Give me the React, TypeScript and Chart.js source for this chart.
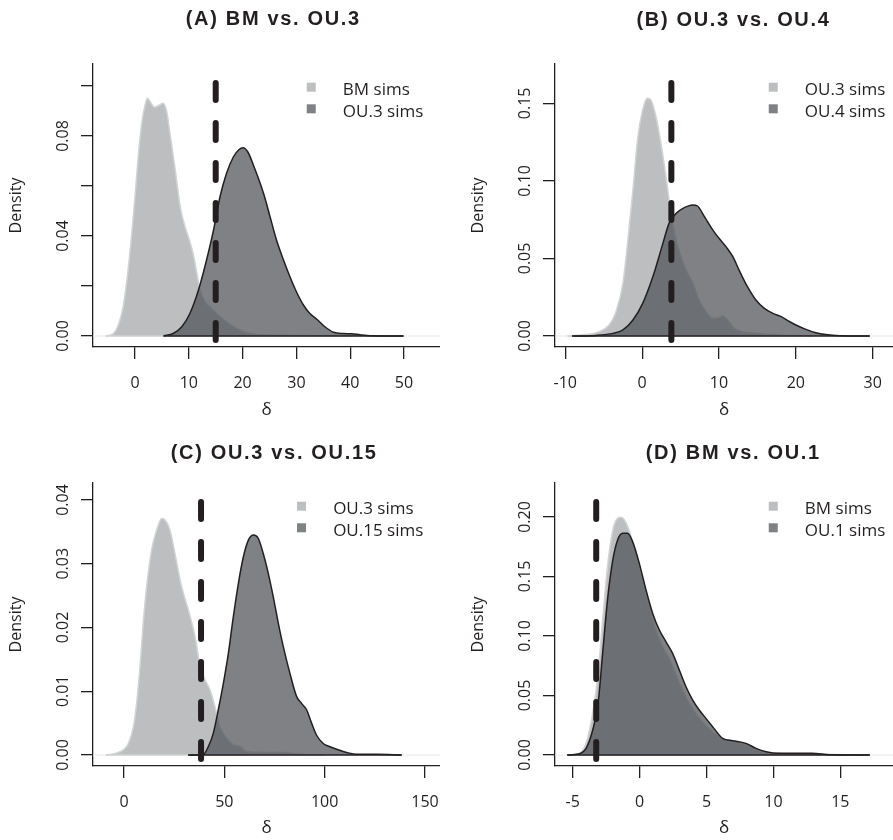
import { useEffect, useRef } from 'react';
import { Chart, registerables } from 'chart.js';

Chart.register(...registerables);

// ---------------- Panel A: BM vs. OU.3 ----------------
const A_TITLE = '(A) BM vs. OU.3';
const A_SERIES = ['BM sims', 'OU.3 sims'];
const A_LIGHT_X = [-5.4, -4.0, -3.1, -2.2, -1.5, -0.6, 0, 0.6, 1.24, 2.0, 2.3, 2.9, 3.6, 4.4, 5.2, 5.9, 6.5, 7.4, 8.4, 9.3, 10.1, 10.8, 11.5, 12.1, 13.0, 13.9, 15.2, 17.0, 18.9, 20.8, 23.2, 27.6, 33, 40];
const A_LIGHT_Y = [0, 0.001, 0.0044, 0.0117, 0.0224, 0.041, 0.0557, 0.0717, 0.085, 0.0935, 0.0951, 0.0935, 0.0915, 0.0922, 0.0931, 0.0897, 0.081, 0.0677, 0.0517, 0.0437, 0.0384, 0.033, 0.025, 0.0184, 0.0137, 0.0117, 0.009, 0.0057, 0.003, 0.0013, 0.0005, 0.0003, 0.0001, 0];
const A_DARK_X = [5.3, 7.1, 8.7, 10.2, 11.8, 13.3, 14.6, 15.8, 17.0, 18.3, 19.3, 20.1, 21.0, 22.0, 23.9, 25.1, 26.3, 27.6, 28.8, 30.0, 31.3, 32.5, 33.8, 35.3, 36.9, 38.7, 40.3, 41.8, 43.7, 49.9];
const A_DARK_Y = [0, 0.001, 0.0037, 0.009, 0.0184, 0.0304, 0.0424, 0.0557, 0.065, 0.0717, 0.0745, 0.0753, 0.0735, 0.0684, 0.057, 0.0477, 0.0384, 0.0304, 0.0237, 0.0177, 0.0124, 0.009, 0.0067, 0.0037, 0.0015, 0.001, 0.0009, 0.0005, 0.0001, 0];
const A_OBSERVED = 15;
const A_DASH_TOP = 0.1012;
const A_X_RANGE = [-7.807, 56.69];
const A_Y_RANGE = [-0.0044, 0.1088];
const A_X_TICKS = [0, 10, 20, 30, 40, 50];
const A_Y_TICKS = [0, 0.02, 0.04, 0.06, 0.08, 0.1];
const A_Y_LABELLED = [0, 0.04, 0.08];

// ---------------- Panel B: OU.3 vs. OU.4 ----------------
const B_TITLE = '(B) OU.3 vs. OU.4';
const B_SERIES = ['OU.3 sims', 'OU.4 sims'];
const B_LIGHT_X = [-9.7, -7.3, -5.6, -4.3, -3.4, -2.5, -1.9, -1.2, -0.6, 0.07, 0.7, 1.15, 1.8, 2.45, 3.1, 3.75, 4.4, 5.05, 5.7, 6.6, 7.4, 8.3, 9.2, 9.8, 10.5, 11.1, 12.0, 13.1, 14.8, 17.9, 22];
const B_LIGHT_Y = [0, 0.0009, 0.0028, 0.0071, 0.0157, 0.034, 0.0597, 0.094, 0.1264, 0.1457, 0.1532, 0.152, 0.1414, 0.124, 0.1027, 0.079, 0.0619, 0.0511, 0.0426, 0.034, 0.0232, 0.0157, 0.0114, 0.0114, 0.0129, 0.0103, 0.0049, 0.0028, 0.0017, 0.0006, 0];
const B_DARK_X = [-9.1, -6.0, -3.8, -2.5, -1.2, 0.07, 1.4, 2.7, 3.5, 4.4, 5.3, 6.6, 7.2, 8.1, 9.2, 10.0, 10.9, 11.8, 12.6, 13.7, 14.8, 15.9, 17.0, 18.1, 19.2, 20.0, 21.3, 22.6, 23.9, 25.7, 29.6];
const B_DARK_Y = [0, 0.0004, 0.0017, 0.0039, 0.0103, 0.021, 0.0383, 0.0597, 0.0726, 0.079, 0.0823, 0.0845, 0.0838, 0.077, 0.0683, 0.063, 0.0576, 0.0511, 0.0426, 0.0318, 0.0232, 0.0178, 0.0146, 0.0125, 0.0092, 0.0071, 0.0043, 0.0021, 0.0009, 0.0002, 0];
const B_OBSERVED = 3.8;
const B_DASH_TOP = 0.1631;
const B_X_RANGE = [-11.34, 32.64];
const B_Y_RANGE = [-0.00709, 0.17534];
const B_X_TICKS = [-10, 0, 10, 20, 30];
const B_Y_TICKS = [0, 0.05, 0.1, 0.15];
const B_Y_LABELLED = [0, 0.05, 0.1, 0.15];

// ---------------- Panel C: OU.3 vs. OU.15 ----------------
const C_TITLE = '(C) OU.3 vs. OU.15';
const C_SERIES = ['OU.3 sims', 'OU.15 sims'];
const C_LIGHT_X = [-9.0, -3.7, -0.3, 2.2, 4.7, 6.3, 8.0, 9.6, 11.3, 13.8, 16.3, 18.8, 20.4, 22.9, 25.4, 28.7, 32.1, 35.4, 37.9, 40.4, 42.9, 45.3, 47.8, 51.2, 54.5, 57.8, 61.1, 71.1, 79.4, 87.7, 100];
const C_LIGHT_Y = [0, 0.0003, 0.0008, 0.0018, 0.0044, 0.0081, 0.0139, 0.0207, 0.0264, 0.0322, 0.0353, 0.0371, 0.0369, 0.0353, 0.0316, 0.0264, 0.0227, 0.0186, 0.0139, 0.0118, 0.0102, 0.0076, 0.0044, 0.0026, 0.0016, 0.0013, 0.0005, 0.0004, 0.0004, 0.0001, 0];
const C_DARK_X = [32, 39.2, 42, 44.5, 47.0, 49.5, 52.0, 54.5, 57.0, 59.5, 62.0, 64.5, 66.9, 69.4, 71.9, 74.4, 76.9, 79.4, 82.7, 86.0, 88.5, 91.0, 93.5, 96.0, 99.3, 102.7, 106.0, 111.0, 116, 126, 138.4];
const C_DARK_Y = [0, 0, 0.0013, 0.0034, 0.0071, 0.0112, 0.0159, 0.0217, 0.0269, 0.0311, 0.0337, 0.0345, 0.034, 0.0316, 0.0285, 0.0248, 0.0207, 0.017, 0.0128, 0.0092, 0.0081, 0.0071, 0.005, 0.0031, 0.0018, 0.0013, 0.0009, 0.0004, 0.0001, 0.0001, 0];
const C_OBSERVED = 38.4;
const C_DASH_TOP = 0.0397;
const C_X_RANGE = [-15.45, 157.5];
const C_Y_RANGE = [-0.001725, 0.042667];
const C_X_TICKS = [0, 50, 100, 150];
const C_Y_TICKS = [0, 0.01, 0.02, 0.03, 0.04];
const C_Y_LABELLED = [0, 0.01, 0.02, 0.03, 0.04];

// ---------------- Panel D: BM vs. OU.1 ----------------
const D_TITLE = '(D) BM vs. OU.1';
const D_SERIES = ['BM sims', 'OU.1 sims'];
const D_LIGHT_X = [-5.4, -4.5, -4.0, -3.5, -3.1, -2.76, -2.4, -2.0, -1.64, -1.39, -1.0, -0.64, -0.27, 0.23, 0.73, 1.23, 1.72, 2.22, 2.72, 3.22, 3.72, 4.2, 4.7, 5.46, 6.2, 7.2, 8.2, 9.2, 10.4, 12.9, 16.7];
const D_LIGHT_Y = [0, 0.0014, 0.0098, 0.035, 0.0686, 0.1134, 0.158, 0.189, 0.1989, 0.1997, 0.195, 0.1835, 0.1695, 0.147, 0.1246, 0.105, 0.091, 0.0812, 0.0672, 0.0546, 0.0434, 0.035, 0.028, 0.0196, 0.014, 0.0112, 0.0076, 0.0028, 0.0014, 0.0008, 0];
const D_DARK_X = [-5.4, -4.6, -4.0, -3.5, -3.1, -2.76, -2.4, -2.0, -1.64, -1.26, -0.89, -0.52, -0.02, 0.48, 0.98, 1.48, 1.97, 2.47, 2.97, 3.47, 3.97, 4.46, 4.96, 5.46, 6.2, 6.96, 7.95, 8.7, 9.45, 10.4, 12.9, 14.2, 17.2];
const D_DARK_Y = [0, 0.0008, 0.0056, 0.021, 0.0434, 0.0854, 0.13, 0.1639, 0.1807, 0.1863, 0.1863, 0.1793, 0.161, 0.1387, 0.119, 0.105, 0.0952, 0.0854, 0.0714, 0.0574, 0.0462, 0.0378, 0.0308, 0.0238, 0.014, 0.012, 0.0098, 0.0056, 0.0028, 0.0014, 0.0014, 0.0003, 0];
const D_OBSERVED = -3.24;
const D_DASH_TOP = 0.2126;
const D_X_RANGE = [-6.32, 18.94];
const D_Y_RANGE = [-0.009244, 0.22857];
const D_X_TICKS = [-5, 0, 5, 10, 15];
const D_Y_TICKS = [0, 0.05, 0.1, 0.15, 0.2];
const D_Y_LABELLED = [0, 0.05, 0.1, 0.15, 0.2];

const X_TITLE = 'δ';
const Y_TITLE = 'Density';

// ---------------- styles ----------------
const INK = '#231f20';
const LIGHT_FILL = '#bcbec0';
const LIGHT_LINE = '#d1d3d4';
const DARK_FILL = 'rgba(78, 80, 85, 0.72)';
const ZERO_LINE = '#e6e7e8';
const FONT = '"Open Sans", "Noto Sans", sans-serif';
const TITLE_FONT = 'bold 20px "Liberation Sans", Arial, Helvetica, sans-serif';

type PanelData = {
  title: string;
  series: string[];
  lightX: number[]; lightY: number[];
  darkX: number[]; darkY: number[];
  observed: number; dashTop: number;
  xRange: number[]; yRange: number[];
  xTicks: number[]; yTicks: number[]; yLabelled: number[];
};

const PANELS: PanelData[] = [
  { title: A_TITLE, series: A_SERIES, lightX: A_LIGHT_X, lightY: A_LIGHT_Y, darkX: A_DARK_X, darkY: A_DARK_Y, observed: A_OBSERVED, dashTop: A_DASH_TOP, xRange: A_X_RANGE, yRange: A_Y_RANGE, xTicks: A_X_TICKS, yTicks: A_Y_TICKS, yLabelled: A_Y_LABELLED },
  { title: B_TITLE, series: B_SERIES, lightX: B_LIGHT_X, lightY: B_LIGHT_Y, darkX: B_DARK_X, darkY: B_DARK_Y, observed: B_OBSERVED, dashTop: B_DASH_TOP, xRange: B_X_RANGE, yRange: B_Y_RANGE, xTicks: B_X_TICKS, yTicks: B_Y_TICKS, yLabelled: B_Y_LABELLED },
  { title: C_TITLE, series: C_SERIES, lightX: C_LIGHT_X, lightY: C_LIGHT_Y, darkX: C_DARK_X, darkY: C_DARK_Y, observed: C_OBSERVED, dashTop: C_DASH_TOP, xRange: C_X_RANGE, yRange: C_Y_RANGE, xTicks: C_X_TICKS, yTicks: C_Y_TICKS, yLabelled: C_Y_LABELLED },
  { title: D_TITLE, series: D_SERIES, lightX: D_LIGHT_X, lightY: D_LIGHT_Y, darkX: D_DARK_X, darkY: D_DARK_Y, observed: D_OBSERVED, dashTop: D_DASH_TOP, xRange: D_X_RANGE, yRange: D_Y_RANGE, xTicks: D_X_TICKS, yTicks: D_Y_TICKS, yLabelled: D_Y_LABELLED },
];

// layout of each canvas (page pixels)
const LAYOUTS = [
  { left: 0, top: 0, w: 440, h: 420, padTop: 64, xH: 73, titleDx: 180.3, titleY: 19, xTitlePad: -0.5 },
  { left: 462, top: 0, w: 431, h: 420, padTop: 64, xH: 73, titleDx: 178.5, titleY: 20, xTitlePad: -0.5 },
  { left: 0, top: 420, w: 440, h: 420, padTop: 63, xH: 74, titleDx: 181.1, titleY: 33, xTitlePad: 1.8 },
  { left: 462, top: 420, w: 431, h: 420, padTop: 63, xH: 74, titleDx: 178.3, titleY: 33, xTitlePad: 1.8 },
];

const panelDecor = {
  id: 'panelDecor',
  afterDraw(chart: any, _args: any, opts: any) {
    const { ctx, chartArea } = chart;
    ctx.save();
    // title
    ctx.font = TITLE_FONT;
    (ctx as any).letterSpacing = '1.67px';
    ctx.fillStyle = INK;
    ctx.textAlign = 'center';
    ctx.textBaseline = 'middle';
    ctx.fillText(opts.title, chartArea.left + opts.titleDx, opts.titleY);
    (ctx as any).letterSpacing = '0px';
    // legend (top right, inside plot)
    ctx.font = `17px ${FONT}`;
    const items = chart.data.datasets.filter((d: any) => d.label);
    const maxW = Math.max(...items.map((d: any) => ctx.measureText(d.label).width));
    const textX = chartArea.left + 330.3 - maxW;
    items.forEach((d: any, i: number) => {
      const sy = chartArea.top + 23.2 + i * 21.6;
      ctx.fillStyle = d.backgroundColor;
      ctx.fillRect(textX - 31.6 - 4.5, sy - 4.5, 9, 9);
      ctx.fillStyle = INK;
      ctx.textAlign = 'left';
      ctx.textBaseline = 'alphabetic';
      ctx.fillText(d.label, textX, chartArea.top + 31 + i * 21.7);
    });
    ctx.restore();
  },
};

const pts = (xs: number[], ys: number[]) => xs.map((x, i) => ({ x, y: ys[i] }));

function Panel({ p, l }: { p: PanelData; l: (typeof LAYOUTS)[number] }) {
  const ref = useRef<HTMLCanvasElement>(null);
  useEffect(() => {
    const lastL = p.lightX.length - 1;
    const lastD = p.darkX.length - 1;
    const chart = new Chart(ref.current as HTMLCanvasElement, {
      type: 'line',
      data: {
        datasets: [
          {
            label: p.series[0],
            data: pts(p.lightX, p.lightY),
            backgroundColor: LIGHT_FILL,
            borderColor: LIGHT_LINE,
            borderWidth: 1.5,
            fill: 'origin',
            pointRadius: 0,
            cubicInterpolationMode: 'monotone',
            order: 2,
          },
          {
            label: p.series[1],
            data: pts(p.darkX, p.darkY),
            backgroundColor: DARK_FILL,
            borderColor: INK,
            borderWidth: 1.5,
            fill: 'origin',
            pointRadius: 0,
            cubicInterpolationMode: 'monotone',
            order: 1,
          },
          {
            label: '',
            data: [{ x: p.lightX[0], y: 0 }, { x: p.lightX[lastL], y: 0 }],
            borderColor: LIGHT_LINE,
            borderWidth: 1.5,
            fill: false,
            pointRadius: 0,
            order: 1.5,
          },
          {
            label: '',
            data: [{ x: p.darkX[0], y: 0 }, { x: p.darkX[lastD], y: 0 }],
            borderColor: INK,
            borderWidth: 1.5,
            fill: false,
            pointRadius: 0,
            order: 0.5,
          },
          {
            label: '',
            data: [{ x: p.xRange[0], y: 0 }, { x: p.xRange[1], y: 0 }],
            borderColor: ZERO_LINE,
            borderWidth: 1,
            fill: false,
            pointRadius: 0,
            order: 3,
          },
          {
            label: '',
            data: [{ x: p.observed, y: p.dashTop }, { x: p.observed, y: p.yRange[0] }],
            borderColor: INK,
            borderWidth: 6,
            borderDash: [17, 23],
            borderCapStyle: 'round',
            fill: false,
            pointRadius: 0,
            clip: false,
            order: 0,
          } as any,
        ],
      },
      options: {
        responsive: false,
        animation: false,
        devicePixelRatio: 1,
        events: [],
        layout: { padding: { top: l.padTop, left: 0, right: 0, bottom: 0 } },
        plugins: {
          legend: { display: false },
          tooltip: { enabled: false },
          title: { display: false },
          panelDecor: { title: p.title, titleDx: l.titleDx, titleY: l.titleY },
        } as any,
        scales: {
          x: {
            type: 'linear',
            min: p.xRange[0],
            max: p.xRange[1],
            afterBuildTicks: (s: any) => {
              s.ticks = p.xTicks.map((v) => ({ value: v }));
            },
            afterFit: (s: any) => {
              s.height = l.xH;
              s.paddingLeft = 0;
              s.paddingRight = 0;
            },
            ticks: {
              font: { family: FONT, size: 16 },
              color: INK,
              padding: 15,
              autoSkip: false,
              maxRotation: 0,
              minRotation: 0,
              callback: (v: any) => String(v),
            },
            grid: { display: true, drawOnChartArea: false, drawTicks: true, tickLength: 12, color: INK, tickColor: INK, lineWidth: 1.3 },
            border: { display: true, color: INK, width: 1.3 },
            title: { display: true, text: X_TITLE, color: INK, font: { family: FONT, size: 17 }, padding: { top: 0, bottom: l.xTitlePad } },
          },
          y: {
            type: 'linear',
            min: p.yRange[0],
            max: p.yRange[1],
            afterBuildTicks: (s: any) => {
              s.ticks = p.yTicks.map((v) => ({ value: v }));
            },
            afterFit: (s: any) => {
              s.width = 93;
              s.paddingTop = 0;
              s.paddingBottom = 0;
            },
            ticks: {
              font: { family: FONT, size: 16 },
              color: INK,
              padding: 2,
              autoSkip: false,
              minRotation: 90,
              maxRotation: 90,
              crossAlign: 'center',
              callback: (v: any) => (p.yLabelled.some((t) => Math.abs(t - v) < 1e-9) ? Number(v).toFixed(2) : ''),
            },
            grid: { display: true, drawOnChartArea: false, drawTicks: true, tickLength: 12, color: INK, tickColor: INK, lineWidth: 1.3 },
            border: { display: true, color: INK, width: 1.3 },
            title: { display: true, text: Y_TITLE, color: INK, font: { family: FONT, size: 16 }, padding: { top: 6.5, bottom: 0 } },
          },
        },
      } as any,
      plugins: [panelDecor],
    });
    return () => chart.destroy();
  }, [p, l]);
  return (
    <canvas
      ref={ref}
      width={l.w}
      height={l.h}
      style={{ position: 'absolute', left: l.left, top: l.top, width: l.w, height: l.h }}
    />
  );
}

export default function App() {
  useEffect(() => {
    document.body.style.margin = '0';
  }, []);
  return (
    <div style={{ position: 'absolute', left: 0, top: 0, width: 893, height: 840, background: '#fff', overflow: 'hidden' }}>
      {PANELS.map((p, i) => (
        <Panel key={i} p={p} l={LAYOUTS[i]} />
      ))}
    </div>
  );
}
